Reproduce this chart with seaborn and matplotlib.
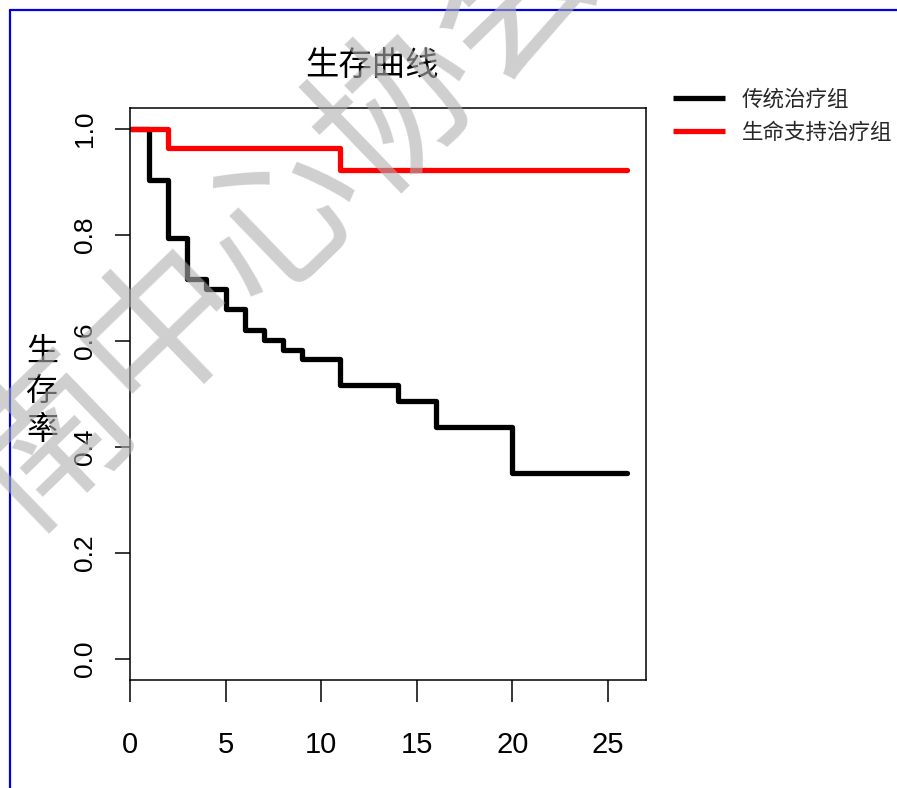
import matplotlib
matplotlib.use("Agg")
import matplotlib.pyplot as plt
from matplotlib.lines import Line2D
import pandas as pd
import seaborn as sns

# Kaplan-Meier step estimates for the two treatment groups
conv_time = [0, 1, 2, 3, 4, 5, 6, 7, 8, 9, 11, 14, 16, 20, 26]
conv_surv = [1.0, 0.905, 0.795, 0.718, 0.699, 0.660, 0.621, 0.602, 0.583,
             0.566, 0.517, 0.487, 0.438, 0.350, 0.350]
ls_time = [0, 2, 11, 26]
ls_surv = [1.0, 0.964, 0.923, 0.923]

groups = ["传统治疗组", "生命支持治疗组"]
group_colors = ["#000000", "#ff0000"]
x_ticks = [0, 5, 10, 15, 20, 25]
y_ticks = [0.0, 0.2, 0.4, 0.6, 0.8, 1.0]
title = "生存曲线"
ylabel = "生存率"
watermark = "南中心协会"

df = pd.concat([
    pd.DataFrame({"time": conv_time, "surv": conv_surv, "group": groups[0]}),
    pd.DataFrame({"time": ls_time, "surv": ls_surv, "group": groups[1]}),
], ignore_index=True)

sns.set_style("white")
plt.rcParams["font.family"] = ["Noto Sans CJK SC", "DejaVu Sans"]

W, H = 897, 788
fig = plt.figure(figsize=(W / 100, H / 100), dpi=100)
fig.patch.set_facecolor("white")

ax = fig.add_axes([130 / W, 1 - 680 / H, (646 - 130) / W, (680 - 108) / H])
ax.set_facecolor("white")

lw = 3.8
sns.lineplot(data=df, x="time", y="surv", hue="group",
             palette=dict(zip(groups, group_colors)), hue_order=groups,
             drawstyle="steps-post", linewidth=lw, estimator=None,
             sort=True, ax=ax, legend=True,
             solid_capstyle="round", solid_joinstyle="round")

ax.set_xlim(0, 27)
ax.set_ylim(-0.04, 1.04)
ax.set_xlabel("")
ax.set_ylabel("")

for s in ax.spines.values():
    s.set_visible(True)
    s.set_color("black")
    s.set_linewidth(1.1)

ax.set_xticks(x_ticks)
ax.set_xticklabels([str(v) for v in x_ticks],
                   family=["Liberation Sans"], fontsize=21)
ax.set_yticks(y_ticks)
ax.set_yticklabels([f"{v:.1f}" for v in y_ticks],
                   family=["Liberation Sans"], fontsize=19,
                   rotation=90, va="center")
ax.tick_params(axis="x", direction="out", length=16, width=1.1,
               pad=21, colors="black", bottom=True)
ax.tick_params(axis="y", direction="out", length=11, width=1.1,
               pad=13, colors="black", left=True)

handles, labels = ax.get_legend_handles_labels()
leg = ax.legend(handles, labels, loc="upper left",
                bbox_to_anchor=(673 / W, 1 - 89 / H),
                bbox_transform=fig.transFigure, frameon=False,
                borderpad=0, borderaxespad=0, handlelength=2.4,
                handletextpad=0.8, labelspacing=0.5,
                prop={"family": ["Noto Sans CJK SC"], "size": 15.5})
for h in leg.get_lines():
    h.set_linewidth(lw)
    h.set_solid_capstyle("butt")

fig.text(372 / W, 1 - 65 / H, title, ha="center", va="center",
         fontsize=24, color="black")
fig.text(42 / W, 1 - 391 / H, "\n".join(ylabel), ha="center", va="center",
         fontsize=23, linespacing=1.3, color="black")

# page frame
fig.add_artist(Line2D([10 / W, 1.0], [1 - 10 / H, 1 - 10 / H],
                      transform=fig.transFigure, color="#0000e0", lw=1.6))
fig.add_artist(Line2D([10 / W, 10 / W], [0.0, 1 - 10 / H],
                      transform=fig.transFigure, color="#0000e0", lw=1.6))

# translucent stamp across the chart
fig.text(282 / W, 1 - 218 / H, watermark, ha="center", va="center",
         rotation=44, rotation_mode="anchor", fontsize=116,
         fontweight="medium", color="#afafaf", alpha=0.6, zorder=10)

fig.savefig("out.png", dpi=100, facecolor="white")
